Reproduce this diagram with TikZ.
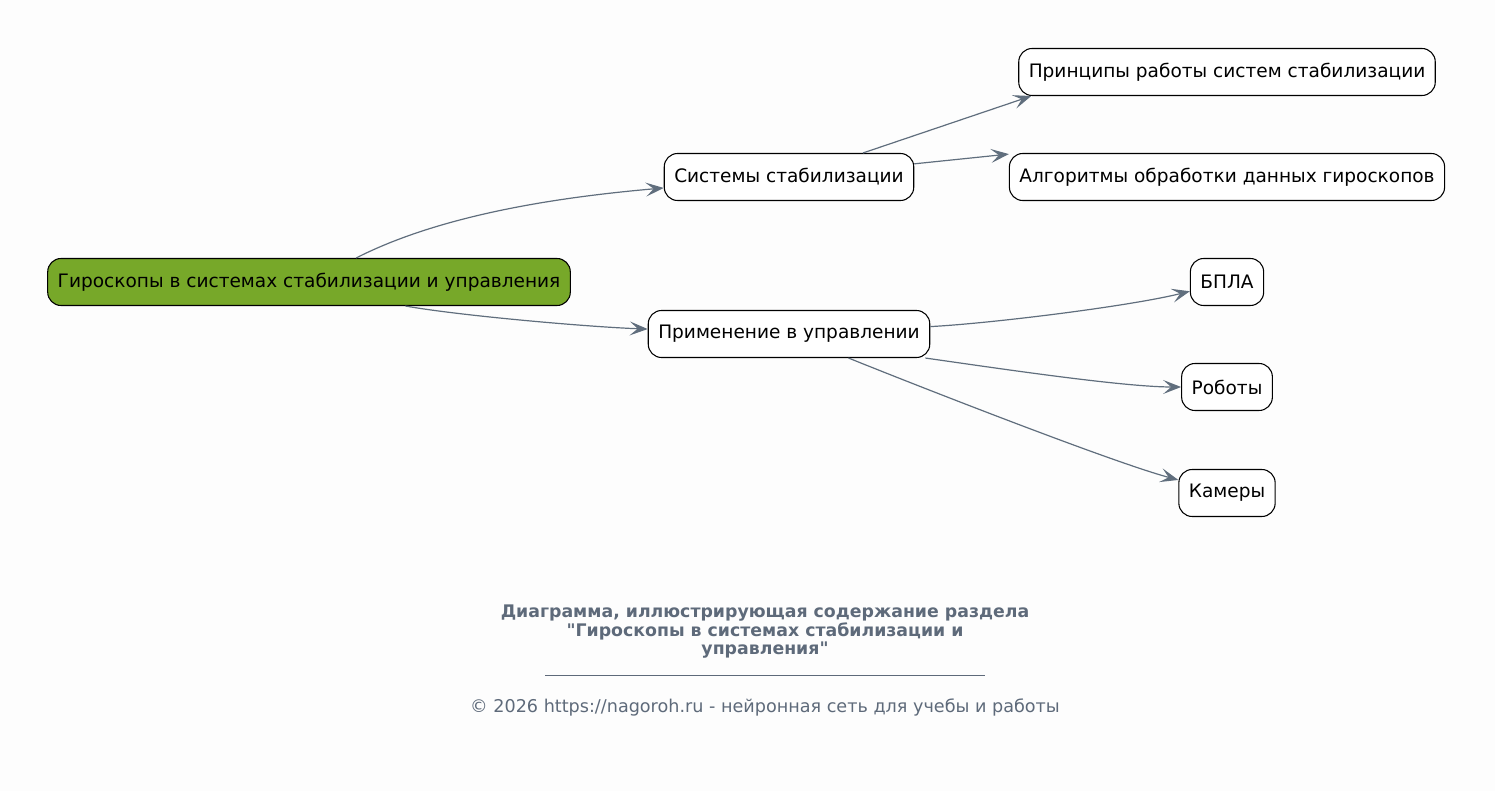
\documentclass[tikz,border=0pt]{standalone}
\usepackage{fontspec}
\setmainfont{DejaVu Sans}
\newfontfamily\capfont{DejaVu Sans}
\usetikzlibrary{arrows.meta}
\definecolor{bgpage}{RGB}{253,253,253}
\definecolor{rootgreen}{RGB}{119,168,41}
\definecolor{edgegray}{RGB}{96,110,125}
\definecolor{capgray}{RGB}{94,106,122}

\begin{document}
\begin{tikzpicture}[x=0.75pt,y=-0.75pt,
    box/.style={shape=rectangle,rounded corners=10pt,draw=black,fill=white,line width=0.8pt,
        minimum height=35.25pt,inner xsep=7.5pt,font=\fontsize{13.9}{16}\selectfont},
    link/.style={draw=edgegray,line width=0.9pt,
        -{Stealth[length=13.5pt,width=10.5pt,inset=6pt]}}]
    \fill[bgpage] (0,0) rectangle (1495,791);
    \useasboundingbox (0,0) rectangle (1495,791);

    \node[box,fill=rootgreen] (G) at (309,282) {Гироскопы в системах стабилизации и управления};
    \node[box] (S) at (789,177) {Системы стабилизации};
    \node[box] (U) at (789,334) {Применение в управлении};
    \node[box] (P) at (1227,72) {Принципы работы систем стабилизации};
    \node[box] (A) at (1227,177) {Алгоритмы обработки данных гироскопов};
    \node[box] (B) at (1227,282) {БПЛА};
    \node[box] (R) at (1227,387) {Роботы};
    \node[box] (K) at (1227,493) {Камеры};

    \path [link] (G.27) to [out=27,in=185,looseness=0.8] (S.185);
    \path [link] (G.-14) to [out=-10,in=178,looseness=0.6] (U.178);
    \path [link] (S.18) -- (P.187);
    \path [link] (S.6) -- (A.174);
    \path [link] (U.3) to [out=3,in=194,looseness=0.6] (B.194);
    \path [link] (U.-10) to [out=-8,in=180,looseness=0.6] (R.180);
    \path [link] (U.-22) to [out=-22,in=165,looseness=0.5] (K.165);

    \node[text=capgray,font=\capfont\fontsize{13}{13.9}\selectfont\bfseries,align=center] (T) at (765,632)
        {Диаграмма, иллюстрирующая содержание раздела\\"Гироскопы в системах стабилизации и\\управления"};
    \draw[capgray,line width=0.6pt] (545,675) -- (985,675);
    \node[text=capgray,font=\capfont\fontsize{13.2}{16}\selectfont] (C) at (765,707)
        {© 2026 https://nagoroh.ru - нейронная сеть для учебы и работы};
\end{tikzpicture}
\end{document}
